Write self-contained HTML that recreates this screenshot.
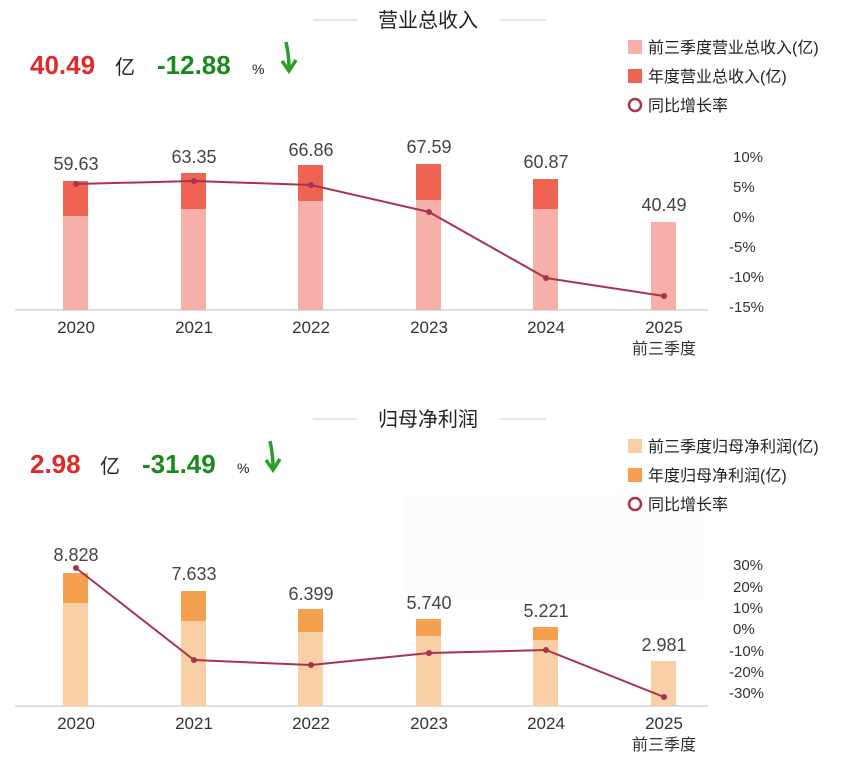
<!DOCTYPE html><html><head><meta charset="utf-8"><style>
body{margin:0;width:850px;height:760px;background:#fff;overflow:hidden;font-family:"Liberation Sans","Noto Sans CJK SC",sans-serif}
svg text{font-family:"Liberation Sans","Noto Sans CJK SC",sans-serif}
</style></head><body>
<svg width="850" height="760" viewBox="0 0 850 760">
<line x1="313" y1="20" x2="357" y2="20" stroke="#ccc"/><line x1="500" y1="20" x2="546" y2="20" stroke="#ccc"/>
<text x="428" y="27" font-size="20" text-anchor="middle" fill="#222">营业总收入</text>
<text x="30" y="74" font-size="26" font-weight="bold" fill="#e02a2a">40.49</text>
<text x="115" y="74" font-size="20" fill="#222">亿</text>
<text x="157" y="74" font-size="26" font-weight="bold" fill="#1a8a1a">-12.88</text>
<text x="252" y="74" font-size="14" fill="#222">%</text>
<path d="M286 42 Q289 56 289 68 M282 61 L289 71 L296 60" stroke="#2aa02a" stroke-width="3.5" fill="none"/>
<rect x="628" y="40" width="14" height="14" fill="#f5b0aa"/><text x="648" y="53" font-size="16" fill="#222">前三季度营业总收入(亿)</text>
<rect x="628" y="69" width="14" height="14" fill="#ee6352"/><text x="648" y="82" font-size="16" fill="#222">年度营业总收入(亿)</text>
<circle cx="635" cy="105" r="6" fill="none" stroke="#a8344f" stroke-width="2.5"/><text x="648" y="111" font-size="16" fill="#222">同比增长率</text>
<line x1="15" y1="310" x2="708" y2="310" stroke="#ddd" stroke-width="2"/>
<g fill="#f5b0aa">
<rect x="63" y="216" width="25" height="94"/><rect x="181" y="209" width="25" height="101"/><rect x="298" y="201" width="25" height="109"/><rect x="416" y="200" width="25" height="110"/><rect x="533" y="209" width="25" height="101"/><rect x="651" y="222" width="25" height="88"/></g>
<g fill="#ee6352">
<rect x="63" y="181" width="25" height="35"/><rect x="181" y="173" width="25" height="36"/><rect x="298" y="165" width="25" height="36"/><rect x="416" y="164" width="25" height="36"/><rect x="533" y="179" width="25" height="30"/></g>
<polyline points="76,184 194,181 311,185 429,212 546,278 664,296" fill="none" stroke="#a8344f" stroke-width="2"/>
<g fill="#a8344f"><circle cx="76" cy="184" r="3"/><circle cx="194" cy="181" r="3"/><circle cx="311" cy="185" r="3"/><circle cx="429" cy="212" r="3"/><circle cx="546" cy="278" r="3"/><circle cx="664" cy="296" r="3"/></g>
<g font-size="18" fill="#444" text-anchor="middle">
<text x="76" y="170">59.63</text><text x="194" y="163">63.35</text><text x="311" y="156">66.86</text><text x="429" y="153">67.59</text><text x="546" y="168">60.87</text><text x="664" y="211">40.49</text></g>
<g font-size="17" fill="#333" text-anchor="middle">
<text x="76" y="333">2020</text><text x="194" y="333">2021</text><text x="311" y="333">2022</text><text x="429" y="333">2023</text><text x="546" y="333">2024</text><text x="664" y="333">2025</text><text x="664" y="354" font-size="16">前三季度</text></g>
<g font-size="15" fill="#333"><text x="733" y="162">10%</text><text x="733" y="192">5%</text><text x="733" y="222">0%</text><text x="729" y="252">-5%</text><text x="729" y="282">-10%</text><text x="729" y="312">-15%</text></g>

<rect x="405" y="495" width="298" height="105" fill="#fcfcfc"/>
<line x1="313" y1="419" x2="357" y2="419" stroke="#ccc"/><line x1="500" y1="419" x2="546" y2="419" stroke="#ccc"/>
<text x="428" y="426" font-size="20" text-anchor="middle" fill="#222">归母净利润</text>
<text x="30" y="473" font-size="26" font-weight="bold" fill="#e02a2a">2.98</text>
<text x="100" y="473" font-size="20" fill="#222">亿</text>
<text x="142" y="473" font-size="26" font-weight="bold" fill="#1a8a1a">-31.49</text>
<text x="237" y="473" font-size="14" fill="#222">%</text>
<path d="M270 441 Q273 455 273 467 M266 460 L273 470 L280 459" stroke="#2aa02a" stroke-width="3.5" fill="none"/>
<rect x="628" y="439" width="14" height="14" fill="#f9cfa6"/><text x="648" y="452" font-size="16" fill="#222">前三季度归母净利润(亿)</text>
<rect x="628" y="468" width="14" height="14" fill="#f4a04e"/><text x="648" y="481" font-size="16" fill="#222">年度归母净利润(亿)</text>
<circle cx="635" cy="504" r="6" fill="none" stroke="#a8344f" stroke-width="2.5"/><text x="648" y="510" font-size="16" fill="#222">同比增长率</text>
<line x1="15" y1="706" x2="708" y2="706" stroke="#ddd" stroke-width="2"/>
<g fill="#f9cfa6">
<rect x="63" y="603" width="25" height="103"/><rect x="181" y="621" width="25" height="85"/><rect x="298" y="632" width="25" height="74"/><rect x="416" y="636" width="25" height="70"/><rect x="533" y="640" width="25" height="66"/><rect x="651" y="661" width="25" height="45"/></g>
<g fill="#f4a04e">
<rect x="63" y="573" width="25" height="30"/><rect x="181" y="591" width="25" height="30"/><rect x="298" y="609" width="25" height="23"/><rect x="416" y="619" width="25" height="17"/><rect x="533" y="627" width="25" height="13"/></g>
<polyline points="76,568 194,660 311,665 429,653 546,650 664,697" fill="none" stroke="#a8344f" stroke-width="2"/>
<g fill="#a8344f"><circle cx="76" cy="568" r="3"/><circle cx="194" cy="660" r="3"/><circle cx="311" cy="665" r="3"/><circle cx="429" cy="653" r="3"/><circle cx="546" cy="650" r="3"/><circle cx="664" cy="697" r="3"/></g>
<g font-size="18" fill="#444" text-anchor="middle">
<text x="76" y="561">8.828</text><text x="194" y="580">7.633</text><text x="311" y="600">6.399</text><text x="429" y="609">5.740</text><text x="546" y="617">5.221</text><text x="664" y="651">2.981</text></g>
<g font-size="17" fill="#333" text-anchor="middle">
<text x="76" y="729">2020</text><text x="194" y="729">2021</text><text x="311" y="729">2022</text><text x="429" y="729">2023</text><text x="546" y="729">2024</text><text x="664" y="729">2025</text><text x="664" y="750" font-size="16">前三季度</text></g>
<g font-size="15" fill="#333"><text x="733" y="570">30%</text><text x="733" y="592">20%</text><text x="733" y="613">10%</text><text x="733" y="634">0%</text><text x="729" y="656">-10%</text><text x="729" y="677">-20%</text><text x="729" y="698">-30%</text></g>
</svg>
</body></html>
